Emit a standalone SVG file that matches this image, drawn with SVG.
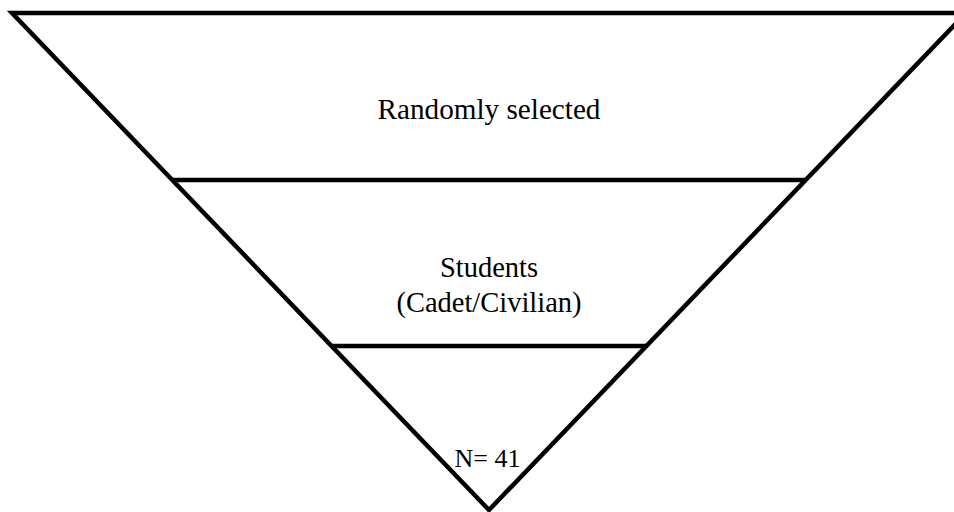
<svg xmlns="http://www.w3.org/2000/svg" width="954" height="512" viewBox="0 0 954 512">
<style>
.ln{stroke:#000;stroke-width:4.5;fill:none;stroke-linejoin:miter;stroke-linecap:butt}
.t{font-family:"Liberation Serif","Times New Roman",serif;font-size:28.5px;fill:#000;text-anchor:middle}
</style>
<rect width="954" height="512" fill="#fff"/>
<g id="connectors">
<polyline class="ln" points="968,13 12,13 489,510 966,13"/>
<line class="ln" x1="172" y1="180" x2="807" y2="180"/>
<line class="ln" x1="331" y1="346" x2="647" y2="346"/>
</g>
<g id="node-top"><text class="t" x="489" y="118.5" style="font-size:29.2px">Randomly selected</text></g>
<g id="node-middle"><text class="t" x="489" y="277">Students</text><text class="t" x="489" y="312">(Cadet/Civilian)</text></g>
<g id="node-bottom"><text class="t" x="487.5" y="467" style="font-size:26px">N= 41</text></g>
</svg>
